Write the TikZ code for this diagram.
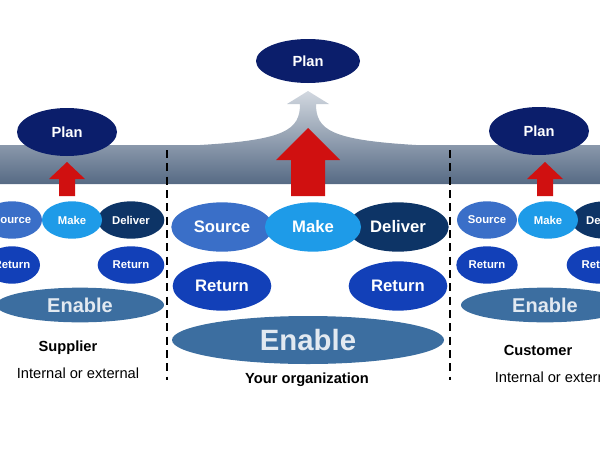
\documentclass[tikz,border=0pt]{standalone}
\usepackage{fontspec}
\setmainfont{Liberation Sans}
\usetikzlibrary{shapes.geometric,arrows.meta}
\definecolor{navy}{HTML}{0B1E6B}
\definecolor{srcblue}{HTML}{3A6FC8}
\definecolor{mkblue}{HTML}{1E9BE8}
\definecolor{dlblue}{HTML}{0D3466}
\definecolor{rtblue}{HTML}{1240B8}
\definecolor{enblue}{HTML}{3C6EA0}
\definecolor{arrred}{HTML}{D01010}
\definecolor{bandtop}{HTML}{D2D8E0}
\definecolor{bandbot}{HTML}{566A84}
\begin{document}
\begin{tikzpicture}[
    x=0.75pt, y=-0.75pt,
    proc/.style={ellipse, inner sep=0pt, text=white, font=\bfseries},
    big/.style={proc, minimum width=76, minimum height=37, font=\fontsize{12.5}{14}\selectfont\bfseries},
    small/.style={proc, minimum width=45, minimum height=28, font=\fontsize{8.5}{10}\selectfont\bfseries},
    plan/.style={proc, fill=navy, font=\fontsize{11}{13}\selectfont\bfseries},
    enable/.style={proc, fill=enblue, text=white!85!enblue},
    redarrow/.style={fill=arrred},
    divider/.style={very thick, dash pattern=on 6pt off 4pt},
    caption/.style={font=\fontsize{11}{13}\selectfont\bfseries},
    subcap/.style={font=\fontsize{11}{13}\selectfont}
]
\useasboundingbox (0,0) rectangle (600,450);
\begin{scope}
\clip (0,0) rectangle (600,450);

% Grey band with central arrow
\shade[top color=bandtop, bottom color=bandbot]
  (0,145) -- (200,145) .. controls (285,140) and (300,130) .. (300,104)
  -- (287,104) -- (308,91) -- (329,104) -- (316,104)
  .. controls (316,130) and (331,140) .. (416,145) -- (600,145)
  -- (600,184) -- (0,184) -- cycle;

% Plans
\node[plan, minimum width=78, minimum height=33] (plan) at (308,61) {Plan};
\node[plan, minimum width=75, minimum height=36] (planS) at (67,132) {Plan};
\node[plan, minimum width=75, minimum height=36] (planC) at (539,131) {Plan};

% Red arrows
\fill[redarrow] (291,196) -- (291,160) -- (276,160) -- (308,128) -- (340,160) -- (325,160) -- (325,196) -- cycle;
\fill[redarrow] (59,196) -- (59,179) -- (49,179) -- (67,162) -- (85,179) -- (75,179) -- (75,196) -- cycle;
\fill[redarrow] (537,196) -- (537,179) -- (527,179) -- (545,162) -- (563,179) -- (553,179) -- (553,196) -- cycle;

% Dividers
\coordinate (d1t) at (167,150); \coordinate (d1b) at (167,380);
\coordinate (d2t) at (450,150); \coordinate (d2b) at (450,380);
\draw[divider] (d1t) -- (d1b);
\draw[divider] (d2t) -- (d2b);

% Your organization
\node[big, fill=srcblue] (src) at (222,227) {Source};
\node[big, fill=dlblue] (dlv) at (398,227) {Deliver};
\node[big, fill=mkblue, minimum width=72] (mk) at (313,227) {Make};
\node[big, fill=rtblue, minimum width=74] (rt1) at (222,286) {Return};
\node[big, fill=rtblue, minimum width=74] (rt2) at (398,286) {Return};
\node[enable, minimum width=204, minimum height=36, font=\fontsize{22}{24}\selectfont\bfseries] (en) at (308,340) {Enable};
\node[caption] (org) at (307,380) {Your organization};

% Supplier
\node[small, fill=srcblue] (srcS) at (12,220) {Source};
\node[small, fill=dlblue, minimum width=50] (dlvS) at (131,220) {Deliver};
\node[small, fill=mkblue] (mkS) at (72,220) {Make};
\node[small, fill=rtblue, minimum width=42] (rtS1) at (12,265) {Return};
\node[small, fill=rtblue, minimum width=50] (rtS2) at (131,265) {Return};
\node[enable, minimum width=126, minimum height=26, font=\fontsize{15}{17}\selectfont\bfseries] (enS) at (80,305) {Enable};
\node[caption] (sup) at (68,348) {Supplier};
\node[subcap] (supx) at (78,373) {Internal or external};

% Customer
\node[small, fill=srcblue] (srcC) at (487,220) {Source};
\node[small, fill=dlblue, minimum width=50] (dlvC) at (605,220) {Deliver};
\node[small, fill=mkblue] (mkC) at (548,220) {Make};
\node[small, fill=rtblue, minimum width=46] (rtC1) at (487,265) {Return};
\node[small, fill=rtblue, minimum width=50] (rtC2) at (600,265) {Return};
\node[enable, minimum width=126, minimum height=26, font=\fontsize{15}{17}\selectfont\bfseries] (enC) at (545,305) {Enable};
\node[caption] (cus) at (538,350) {Customer};
\node[subcap] (cusx) at (556,377) {Internal or external};
\end{scope}
\end{tikzpicture}
\end{document}
